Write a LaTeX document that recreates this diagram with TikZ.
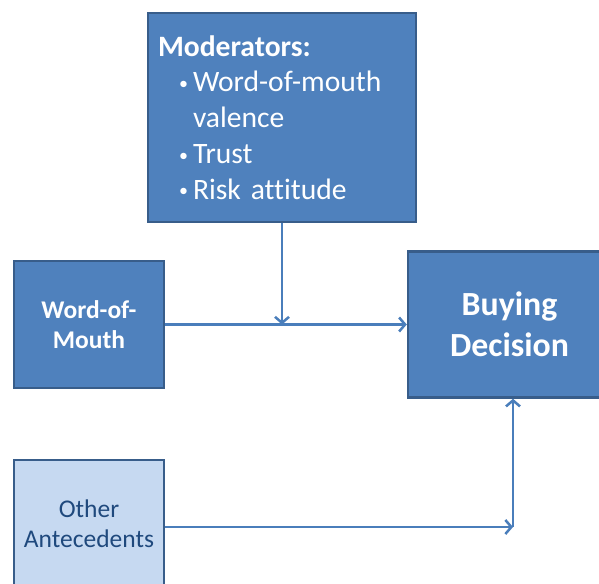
\documentclass[tikz,border=0pt]{standalone}
\usepackage{fontspec}
\setmainfont{Carlito}[Ligatures=NoCommon]
\usetikzlibrary{positioning,arrows.meta}
\definecolor{boxblue}{HTML}{4F81BD}
\definecolor{boxedge}{HTML}{385D8A}
\definecolor{paleblue}{HTML}{C6D9F1}
\definecolor{darkblue}{HTML}{1F497D}
\definecolor{linkblue}{HTML}{4A7EBB}
\newcommand{\modbullet}{\hspace*{21pt}\makebox[14pt][l]{\raisebox{2.5pt}{\fontsize{18}{18}\selectfont\textbullet}}}

\begin{document}
\begin{tikzpicture}[x=1pt,y=-1pt,
        block/.style={draw=boxedge, line width=2.5pt, fill=boxblue, text=white, inner sep=0pt, align=center},
        link/.style={draw=linkblue, line width=2.5pt, -{Straight Barb[length=6pt,width=14pt]}}]
        \useasboundingbox (0,0) rectangle (599,583);
        \clip (0,0) rectangle (599,583);
        \node (mods) at (282,117.5) [block, minimum width=268pt, minimum height=209pt, inner xsep=10pt, text width=248pt, align=left, font=\fontsize{29.6}{35.8}\selectfont] {\textbf{Moderators:}\\
            \modbullet Word-of-mouth\\
            \hspace*{35pt}valence\\
            \modbullet Trust\\
            \modbullet Risk attitude};
        \node (wom) at (89,324.5) [block, minimum width=150pt, minimum height=127pt, font=\bfseries\fontsize{25.5}{30}\selectfont] {Word-of-\\Mouth};
        \node (bd) at (509.5,324.5) [block, minimum width=203pt, minimum height=146pt, font=\bfseries\fontsize{33.8}{41}\selectfont] {Buying\\Decision};
        \node (other) at (89,523.5) [block, fill=paleblue, text=darkblue, minimum width=150pt, minimum height=127pt, font=\fontsize{25.5}{30}\selectfont] {Other\\Antecedents};

        \coordinate (join) at (mods.south |- wom.east);
        \coordinate (elbow) at (513,527);
        \draw [link] (wom) -- (bd);
        \draw [link] (mods) -- (join);
        \draw [link] (other.east |- elbow) -- (elbow);
        \draw [link] (elbow) -- (elbow |- bd.south);
    \end{tikzpicture}
\end{document}
